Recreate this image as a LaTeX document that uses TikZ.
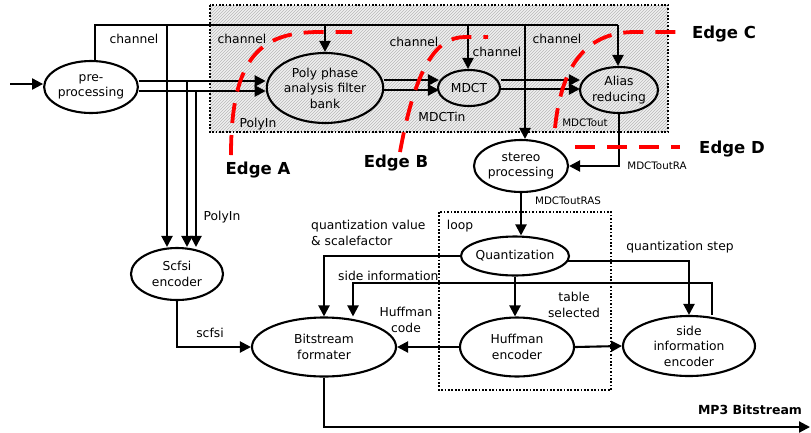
\documentclass[tikz,border=0pt]{standalone}
\usepackage{fontspec}
\setmainfont{DejaVu Sans}
\usetikzlibrary{shapes.geometric,arrows.meta,patterns,calc}
\begin{document}
\begin{tikzpicture}[x=1pt,y=-1pt,
  every node/.style={font=\fontsize{12.3}{15.5}\selectfont},
  proc/.style={draw, ellipse, line width=2.1pt, inner sep=0pt, align=center},
  wire/.style={line width=2.1pt},
  arr/.style={wire, -{Triangle[length=11pt,width=11pt]}},
  lbl/.style={inner sep=0pt, align=center},
  small/.style={inner sep=0pt, font=\fontsize{10.3}{12}\selectfont},
  edgelbl/.style={inner sep=0pt, font=\fontsize{16.5}{18}\selectfont\bfseries},
  cut/.style={red, line width=3.8pt, dash pattern=on 20pt off 12pt},
  frame/.style={line width=1.7pt, dash pattern=on 1.7pt off 1.7pt}
]
\useasboundingbox (0,0) rectangle (811,432);

% shaded region
\fill[gray!12] (210,5) rectangle (668,132);
\pattern[pattern=north east lines, pattern color=gray!55] (210,5) rectangle (668,132);
\draw[frame] (210,5) rectangle (668,132);

% loop frame
\draw[frame] (439,212) rectangle (611,390);

% nodes
\node[proc, minimum width=92pt, minimum height=52pt] (pre) at (91,87) {pre-\\processing};
\node[proc, minimum width=116pt, minimum height=70pt] (poly) at (325,88) {Poly phase\\analysis filter\\bank};
\node[proc, minimum width=62pt, minimum height=36pt] (mdct) at (469,88) {MDCT};
\node[proc, minimum width=78pt, minimum height=46pt] (alias) at (619,90) {Alias\\reducing};
\node[proc, minimum width=94pt, minimum height=52pt] (stereo) at (521,166) {stereo\\processing};
\node[proc, minimum width=92pt, minimum height=52pt] (scfsi) at (177,274) {Scfsi\\encoder};
\node[proc, minimum width=144pt, minimum height=59pt] (bit) at (324,347) {Bitstream\\formater};
\node[proc, minimum width=108pt, minimum height=39pt, inner xsep=-6pt] (quant) at (515,256) {Quantization};
\node[proc, minimum width=114pt, minimum height=59pt] (huff) at (517,347) {Huffman\\encoder};
\node[proc, minimum width=132pt, minimum height=60pt] (sie) at (689,346) {side\\information\\encoder};

% coordinates
\coordinate (in) at (10,84);
\coordinate (b0) at (95,25);
\coordinate (b1) at (167,25);
\coordinate (b2) at (325,25);
\coordinate (b3) at (468,25);
\coordinate (b4) at (525,25);
\coordinate (b5) at (618,25);
\coordinate (ya) at (0,81);
\coordinate (yb) at (0,91);
\coordinate (yc) at (0,80);
\coordinate (yd) at (0,90);
\coordinate (ye) at (0,89);
\coordinate (p1) at (187,81);
\coordinate (p2) at (196,91);
\coordinate (s1) at (712,283);
\coordinate (s2) at (353,283);
\coordinate (qs) at (567,261);
\coordinate (out) at (810,427);

% input
\draw[arr] (in) -- (in -| pre.west);

% channel bus
\draw[wire] (pre.north -| b0) -- (b0) -- (b5);
\draw[arr] (b1) -- (b1 |- scfsi.north);
\draw[arr] (b2) -- (poly.north);
\draw[arr] (b3) -- (b3 |- mdct.north);
\draw[arr] (b4) -- (b4 |- stereo.north);
\draw[arr] (b5) -- (b5 |- alias.north);

% pre -> poly
\draw[arr] (pre.east |- ya) -- (poly.west |- ya);
\draw[arr] (pre.east |- yb) -- (poly.west |- yb);
\draw[arr] (p1) -- (p1 |- scfsi.north);
\draw[arr] (p2) -- (p2 |- scfsi.north);

% poly -> mdct
\draw[arr] (poly.east |- yc) -- ($(mdct.west |- yc)+(2,0)$);
\draw[arr] (poly.east |- yd) -- ($(mdct.west |- yd)+(2,0)$);

% mdct -> alias
\draw[arr] (mdct.east |- yc) -- ($(alias.west |- yc)+(1,0)$);
\draw[arr] (mdct.east |- ye) -- ($(alias.west |- ye)+(1,0)$);

% alias -> stereo
\draw[arr] (alias.south) |- (stereo.east);
% stereo -> quant
\draw[arr] (stereo.south) -- (stereo.south |- quant.north);
% quant -> bitstream
\draw[arr] (quant.west) -| (bit.north);
% quant -> side info
\draw[arr] (qs) -| (sie.north);
% side info -> bitstream
\draw[arr] (s1 |- sie.north) -- (s1) -- (s2) -- (s2 |- bit.north);
% quant -> huffman
\draw[arr] (quant.south) -- (quant.south |- huff.north);
% huffman -> side info, bitstream
\draw[arr] (huff.east) -- (sie.west);
\draw[arr] (huff.west) -- (bit.east);
% scfsi -> bitstream
\draw[arr] (scfsi.south) |- (bit.west);
% output
\draw[arr] (bit.south) |- (out);

% labels
\node[lbl] (lch1) at (134,39) {channel};
\node[lbl] (lch2) at (242,39) {channel};
\node[lbl] (lch3) at (414,42) {channel};
\node[lbl] (lch4) at (497,52) {channel};
\node[lbl] (lch5) at (557,39) {channel};
\node[lbl] (lpi1) at (258,124) {PolyIn};
\node[lbl] (lpi2) at (222,217) {PolyIn};
\node[lbl] (lmin) at (442,117) {MDCTin};
\node[small] (lmout) at (585,123) {MDCTout};
\node[small] (lmra) at (657,166) {MDCToutRA};
\node[small] (lmras) at (568,201) {MDCToutRAS};
\node[lbl, anchor=west, align=left] (lqv) at (311,233) {quantization value\\\& scalefactor};
\node[lbl, anchor=west] (lsi) at (338,276) {side information};
\node[lbl] (lhc) at (406,320) {Huffman\\code};
\node[lbl] (lsc) at (210,333) {scfsi};
\node[lbl] (lts) at (574,305) {table\\selected};
\node[lbl] (lqs) at (680,247) {quantization step};
\node[lbl] (lloop) at (460,226) {loop};
\node[lbl, font=\fontsize{12.5}{15}\selectfont\bfseries] (lmp3) at (750,410) {MP3 Bitstream};

% edges (cuts)
\draw[cut] (231,155) .. controls (231,55) and (262,32) .. (320,32) -- (352,32);
\draw[cut] (400,152) .. controls (415,70) and (435,37) .. (465,37) -- (488,37);
\draw[cut] (555,128) .. controls (562,60) and (590,32) .. (635,32) -- (682,32);
\draw[cut] (575,147) -- (680,147);
\node[edgelbl] (ea) at (258,170) {Edge A};
\node[edgelbl] (eb) at (396,163) {Edge B};
\node[edgelbl] (ec) at (724,34) {Edge C};
\node[edgelbl] (ed) at (732,149) {Edge D};
\end{tikzpicture}
\end{document}
